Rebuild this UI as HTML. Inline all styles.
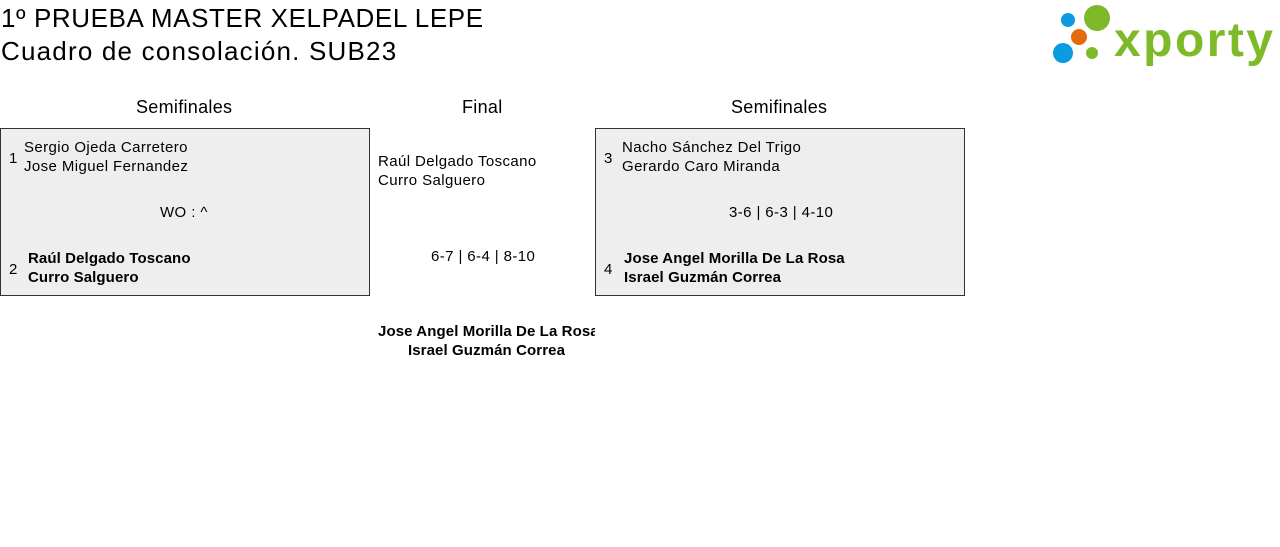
<!DOCTYPE html>
<html><head><meta charset="utf-8"><style>
body{margin:0;width:1280px;height:547px;background:#fff;font-family:"Liberation Sans",sans-serif;color:#000;position:relative;overflow:hidden}
.a{position:absolute;white-space:nowrap}
.t{font-size:26px}
.h{font-size:18px;letter-spacing:0.3px}
.n{font-size:15px;letter-spacing:0.4px;line-height:19px}
.b{font-weight:bold;font-size:15px;letter-spacing:0.1px;line-height:19px}
.box{position:absolute;background:#eeeeee;border:1px solid #333;box-sizing:border-box}
</style></head><body>
<div class="a t" style="left:1px;top:3px;letter-spacing:0.6px">1º PRUEBA MASTER XELPADEL LEPE</div>
<div class="a t" style="left:1px;top:36px;letter-spacing:1.2px">Cuadro de consolación. SUB23</div>

<svg class="a" style="left:1048px;top:2px" width="232" height="66">
<circle cx="20" cy="18" r="7" fill="#0a9be0"/>
<circle cx="49" cy="16" r="13" fill="#7db928"/>
<circle cx="31" cy="35" r="8" fill="#e36c0a"/>
<circle cx="15" cy="51" r="10" fill="#0a9be0"/>
<circle cx="44" cy="51" r="6" fill="#7db928"/>
<text x="66" y="54" font-family="Liberation Sans,sans-serif" font-weight="bold" font-size="48" fill="#7db928" letter-spacing="1" textLength="160">xporty</text>
</svg>

<div class="a h" style="left:136px;top:97px">Semifinales</div>
<div class="a h" style="left:462px;top:97px">Final</div>
<div class="a h" style="left:731px;top:97px">Semifinales</div>

<div class="box" style="left:0;top:128px;width:370px;height:168px"></div>
<div class="a n" style="left:9px;top:149px">1</div>
<div class="a n" style="left:24px;top:138px">Sergio Ojeda Carretero<br>Jose Miguel Fernandez</div>
<div class="a n" style="left:160px;top:203px">WO : ^</div>
<div class="a n" style="left:9px;top:260px">2</div>
<div class="a b" style="left:28px;top:249px">Raúl Delgado Toscano<br>Curro Salguero</div>

<div class="a n" style="left:378px;top:152px">Raúl Delgado Toscano<br>Curro Salguero</div>
<div class="a n" style="left:431px;top:247px">6-7 | 6-4 | 8-10</div>
<div class="a b" style="left:378px;top:322px;width:217px;overflow:hidden;text-align:center">Jose Angel Morilla De La Rosa<br>Israel Guzmán Correa</div>

<div class="box" style="left:595px;top:128px;width:370px;height:168px"></div>
<div class="a n" style="left:604px;top:149px">3</div>
<div class="a n" style="left:622px;top:138px">Nacho Sánchez Del Trigo<br>Gerardo Caro Miranda</div>
<div class="a n" style="left:729px;top:203px">3-6 | 6-3 | 4-10</div>
<div class="a n" style="left:604px;top:260px">4</div>
<div class="a b" style="left:624px;top:249px">Jose Angel Morilla De La Rosa<br>Israel Guzmán Correa</div>
</body></html>
